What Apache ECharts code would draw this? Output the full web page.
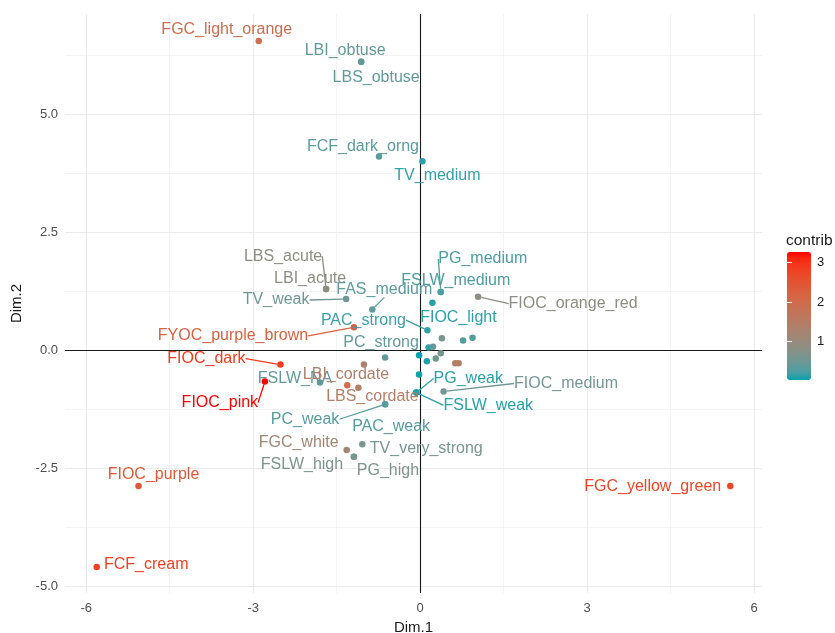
<!DOCTYPE html>
<html><head><meta charset="utf-8">
<script src="https://cdn.jsdelivr.net/npm/echarts@6/dist/echarts.min.js"></script>
<style>html,body{margin:0;padding:0;background:#fff}#c{width:835px;height:633px}</style>
</head><body><div id="c"></div>
<script>
// ---------- data ----------
const categories = [
  "FGC_light_orange","LBI_obtuse","LBS_obtuse","FCF_dark_orng","TV_medium",
  "LBS_acute","LBI_acute","TV_weak","FAS_medium","FYOC_purple_brown",
  "PAC_strong","PC_strong","FIOC_light","PG_medium","FSLW_medium","FIOC_orange_red",
  "FIOC_dark","FIOC_pink","FSLW_NA","LBI_cordate","LBS_cordate",
  "PG_weak","FSLW_weak","FIOC_medium","PC_weak","PAC_weak",
  "TV_very_strong","FGC_white","FSLW_high","PG_high",
  "FIOC_purple","FCF_cream","FGC_yellow_green",
  "","","","","","","","","","","","",""
];
const dim1 = [-2.90,-1.06,-1.06,-0.74,0.04, -1.69,-1.69,-1.33,-0.86,-1.19,
  0.13,-0.63,0.22,0.37,0.37,1.04, -2.51,-2.79,-1.80,-1.01,-1.11,
  -0.07,-0.07,0.42,-0.63,-0.63, -1.04,-1.32,-1.19,-1.19, -5.06,-5.81,5.57,
  -1.31,-0.02,0.12,-0.02,0.15,0.23,0.28,0.37,0.39,0.77,0.94,0.63,0.69];
const dim2 = [6.56,6.12,6.12,4.11,4.01, 1.30,1.30,1.09,0.87,0.49,
  0.43,-0.15,1.01,1.24,1.24,1.14, -0.30,-0.66,-0.68,-0.30,-0.79,
  -0.89,-0.89,-0.87,-1.14,-1.14, -1.99,-2.11,-2.25,-2.25, -2.87,-4.59,-2.87,
  -0.74,-0.10,-0.23,-0.51,0.06,0.08,-0.17,-0.06,0.26,0.21,0.27,-0.27,-0.27];
const contrib = [1.9,0.4,0.4,0.35,0.12, 0.85,0.85,0.5,0.35,2.2,
  0.15,0.4,0.1,0.25,0.25,0.85, 2.9,3.27,0.4,1.3,1.45,
  0.08,0.08,0.55,0.3,0.3, 0.6,1.15,0.65,0.65, 2.4,2.85,2.75,
  1.9,0.02,0.1,0.05,0.15,0.4,0.5,0.6,0.6,0.3,0.3,1.45,1.45];
const xTicks = [-6,-3,0,3,6];
const xMinor = [-4.5,-1.5,1.5,4.5];
const yTicks = [-5,-2.5,0,2.5,5];
const yMinor = [-3.75,-1.25,1.25,3.75,6.25];
const legendTicks = [1,2,3];
const xRange = [-6.38, 6.14];
const yRange = [-5.14, 7.13];

// ---------- label layout (pixel offsets from point, line shown?) ----------
const labelPlacement = {
  FGC_light_orange:[-32,-12.5,0], LBI_obtuse:[-16,-12,0], LBS_obtuse:[15,14.5,0],
  FCF_dark_orng:[-16,-11.4,0], TV_medium:[15,13,0], LBS_acute:[-43,-34,1],
  LBI_acute:[-16,-12,0], TV_weak:[-70,0,1], FAS_medium:[12,-21,1],
  FYOC_purple_brown:[-121,7.5,1], PAC_strong:[-64,-11,1], PC_strong:[-4,-15.5,0],
  FIOC_light:[26,14,0], PG_medium:[42,-34,1], FSLW_medium:[15,-12.6,0],
  FIOC_orange_red:[95,6,1], FIOC_dark:[-74,-7,1], FIOC_pink:[-45,20,1],
  FSLW_NA:[-25,-5,0], LBI_cordate:[-18,9,0], LBS_cordate:[14,8,0],
  PG_weak:[52,-15,1], FSLW_weak:[72,12,1], FIOC_medium:[122.5,-9,1],
  PC_weak:[-80,14,1], PAC_weak:[6,21,0], TV_very_strong:[64,3.7,0],
  FGC_white:[-48,-8,0], FSLW_high:[-52,7.4,0], PG_high:[34,13,0],
  FIOC_purple:[15,-12,0], FCF_cream:[49.5,-3.3,0], FGC_yellow_green:[-77.5,0,0]
};

// ---------- Lab gradient (like ggplot2 scale_colour_gradient) ----------
const LOW = '#04A2AC', HIGH = '#FF0000';
function toLab(hex){
  const n=parseInt(hex.slice(1),16); const c=[(n>>16)&255,(n>>8)&255,n&255].map(v=>{v/=255;return v<=0.04045?v/12.92:Math.pow((v+0.055)/1.055,2.4);});
  const X=(0.4124564*c[0]+0.3575761*c[1]+0.1804375*c[2])/0.95047;
  const Y=(0.2126729*c[0]+0.7151522*c[1]+0.0721750*c[2]);
  const Z=(0.0193339*c[0]+0.1191920*c[1]+0.9503041*c[2])/1.08883;
  const f=t=>t>0.008856?Math.cbrt(t):7.787*t+16/116;
  const fx=f(X),fy=f(Y),fz=f(Z);
  return [116*fy-16,500*(fx-fy),200*(fy-fz)];
}
function fromLab(L){
  const fy=(L[0]+16)/116, fx=fy+L[1]/500, fz=fy-L[2]/200;
  const fi=t=>{const t3=t*t*t;return t3>0.008856?t3:(t-16/116)/7.787;};
  const X=fi(fx)*0.95047,Y=fi(fy),Z=fi(fz)*1.08883;
  const r=3.2404542*X-1.5371385*Y-0.4985314*Z, g=-0.9692660*X+1.8760108*Y+0.0415560*Z, b=0.0556434*X-0.2040259*Y+1.0572252*Z;
  const s=v=>{v=v<=0.0031308?12.92*v:1.055*Math.pow(v,1/2.4)-0.055;return Math.round(Math.max(0,Math.min(1,v))*255);};
  return '#'+[r,g,b].map(v=>s(v).toString(16).padStart(2,'0')).join('');
}
const labLow=toLab(LOW), labHigh=toLab(HIGH);
function gradAt(t){return fromLab(labLow.map((v,i)=>v+(labHigh[i]-v)*t));}
const cMin=Math.min(...contrib), cMax=Math.max(...contrib);
const colorFor=v=>gradAt((v-cMin)/(cMax-cMin));
const stops=[]; for(let i=0;i<=20;i++) stops.push(gradAt(i/20));

// ---------- build ----------
const FONT='"Liberation Sans", Arial, sans-serif';
const GRID='#ebebeb';
const points = categories.map((name,i)=>{
  const col=colorFor(contrib[i]);
  const p=labelPlacement[name];
  return {
    name, value:[dim1[i],dim2[i],contrib[i]],
    label:{show:!!p, color:col},
    labelLine:{show:!!(p&&p[2]), lineStyle:{color:col}}
  };
});
const gridLines=[];
xMinor.forEach(v=>gridLines.push({xAxis:v,lineStyle:{color:GRID,width:0.6,type:'solid'}}));
yMinor.forEach(v=>gridLines.push({yAxis:v,lineStyle:{color:GRID,width:0.6,type:'solid'}}));
xTicks.forEach(v=>gridLines.push({xAxis:v,lineStyle:{color:GRID,width:1.1,type:'solid'}}));
yTicks.forEach(v=>gridLines.push({yAxis:v,lineStyle:{color:GRID,width:1.1,type:'solid'}}));

const chart=echarts.init(document.getElementById('c'),null,{renderer:'canvas'});
chart.setOption({
  backgroundColor:'#fff',
  animation:false,
  textStyle:{fontFamily:FONT},
  title:{text:'contrib',left:786,top:233,padding:0,textStyle:{fontSize:15.5,fontWeight:'normal',color:'#1a1a1a',fontFamily:FONT}},
  grid:[
    {left:65,right:73,top:14,bottom:40,containLabel:false,outerBoundsMode:'none'},
    {left:787,top:252,width:24,height:128,containLabel:false,outerBoundsMode:'none'}
  ],
  xAxis:[
    {type:'value',gridIndex:0,min:xRange[0],max:xRange[1],position:'bottom',
     axisLine:{show:false,onZero:false},axisTick:{show:false},splitLine:{show:false},
     axisLabel:{customValues:xTicks,margin:9,fontSize:13,color:'#4d4d4d',fontFamily:FONT},
     name:'Dim.1',nameLocation:'middle',nameGap:23,nameTextStyle:{fontSize:15,color:'#1a1a1a',fontFamily:FONT}},
    {type:'value',gridIndex:1,show:false,min:0,max:1}
  ],
  yAxis:[
    {type:'value',gridIndex:0,min:yRange[0],max:yRange[1],
     axisLine:{show:false,onZero:false},axisTick:{show:false},splitLine:{show:false},
     axisLabel:{customValues:yTicks,margin:7,fontSize:13,color:'#4d4d4d',fontFamily:FONT,padding:[4,0,0,0],formatter:v=>v.toFixed(1)},
     name:'Dim.2',nameLocation:'middle',nameGap:35,nameRotate:90,nameTextStyle:{fontSize:15,color:'#1a1a1a',fontFamily:FONT}},
    {type:'value',gridIndex:1,min:cMin,max:cMax,position:'right',z:20,
     axisLine:{show:false},splitLine:{show:false},
     axisTick:{show:true,inside:true,length:5,customValues:legendTicks,lineStyle:{color:'#ffffff',width:1}},
     axisLabel:{customValues:legendTicks,margin:6,fontSize:13,color:'#1a1a1a',fontFamily:FONT}},
    {type:'value',gridIndex:1,min:cMin,max:cMax,position:'left',z:20,
     axisLine:{show:false},splitLine:{show:false},axisLabel:{show:false},
     axisTick:{show:true,inside:true,length:5,customValues:legendTicks,lineStyle:{color:'#ffffff',width:1}}}
  ],
  visualMap:{type:'continuous',min:cMin,max:cMax,dimension:2,seriesIndex:2,
    inRange:{color:stops},calculable:false,itemWidth:24,itemHeight:128,
    left:787,top:252,padding:0,text:null,hoverLink:false},
  series:[
    {type:'line',data:[],z:1,silent:true,
     markLine:{silent:true,symbol:'none',animation:false,label:{show:false},data:gridLines}},
    {type:'line',data:[],z:2,silent:true,
     markLine:{silent:true,symbol:'none',animation:false,label:{show:false},
       data:[{xAxis:0,lineStyle:{color:'#1a1a1a',width:1.1,type:'solid'}},{yAxis:0,lineStyle:{color:'#1a1a1a',width:1.1,type:'solid'}}]}},
    {type:'scatter',z:5,symbolSize:6.5,data:points,itemStyle:{opacity:1},
     label:{show:true,position:'inside',formatter:'{b}',fontSize:16,fontFamily:FONT,textBorderWidth:0,textBorderColor:'transparent'},
     labelLine:{show:true,lineStyle:{width:1.3}},
     labelLayout:function(params){
       const p=labelPlacement[categories[params.dataIndex]];
       return p?{dx:p[0],dy:p[1]+1}:{};
     }}
  ]
});
</script></body></html>
